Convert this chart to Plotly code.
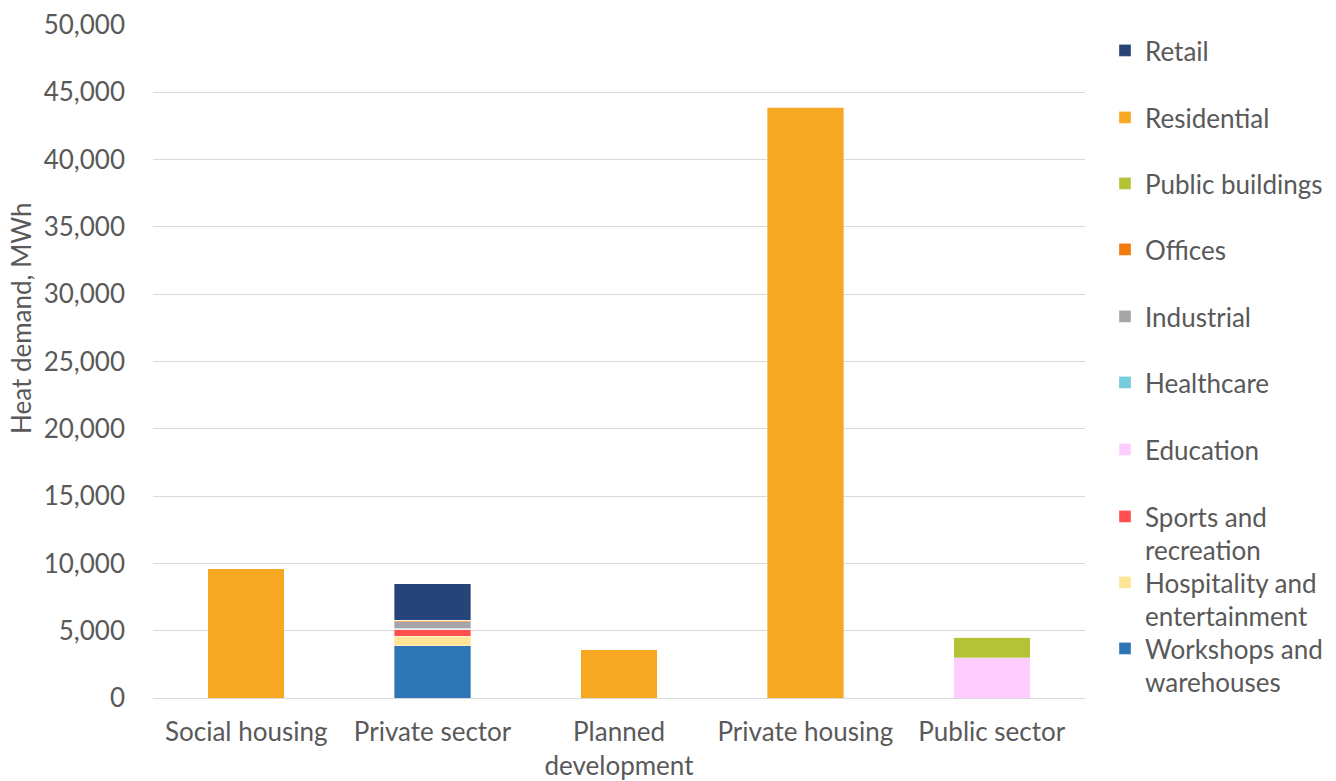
import plotly.graph_objects as go

# Heat demand by sector, stacked by building use (MWh)
categories = ["Social housing", "Private sector", "Planned<br>development",
              "Private housing", "Public sector"]

workshops = [0, 3870, 0, 0, 0]
hospitality = [0, 730, 0, 0, 0]
sports = [0, 520, 0, 0, 0]
education = [0, 0, 0, 0, 3000]
healthcare = [0, 80, 0, 0, 0]
industrial = [0, 460, 0, 0, 0]
offices = [0, 100, 0, 0, 0]
public_buildings = [0, 0, 0, 0, 1500]
residential = [9600, 0, 3600, 43900, 0]
retail = [0, 2740, 0, 0, 0]

y_ticks = [0, 5000, 10000, 15000, 20000, 25000, 30000, 35000, 40000, 45000, 50000]

# (name, values, colour) from the bottom of the stack upward
series = [
    ("Workshops and<br>warehouses", workshops, "#2E75B6"),
    ("Hospitality and<br>entertainment", hospitality, "#FFE597"),
    ("Sports and<br>recreation", sports, "#FF4F4F"),
    ("Education", education, "#FFCCFF"),
    ("Healthcare", healthcare, "#73CDDB"),
    ("Industrial", industrial, "#A6A4A6"),
    ("Offices", offices, "#EE7B0B"),
    ("Public buildings", public_buildings, "#B4C236"),
    ("Residential", residential, "#F7A823"),
    ("Retail", retail, "#264478"),
]

FONT = "Lato"
GREY = "#595959"
FS = 26

# pixel geometry of the plotting area
L, R, T, B = 153, 1085, 25, 698
W, H = 1336, 781

# legend swatch centres (px), top to bottom: Retail ... Workshops
legend_centres = [51, 118, 184, 250, 317, 383, 450, 517, 583, 649]

fig = go.Figure()
layout_legends = {}
n = len(series)
for i, (name, vals, col) in enumerate(series):
    lg_index = n - 1 - i  # Retail on top
    key = "legend" if lg_index == 0 else f"legend{lg_index + 1}"
    fig.add_trace(go.Bar(
        x=categories, y=vals, name=name,
        marker=dict(color=col, line=dict(color="rgba(255,255,255,0.6)", width=0.6)),
        legend=key,
    ))
    cy = legend_centres[lg_index]
    top_px = cy - 24
    layout_legends[key] = dict(
        x=(1105 - L) / (R - L), xanchor="left",
        y=(B - top_px) / (B - T), yanchor="top",
        font=dict(family=FONT, size=FS, color=GREY),
        bgcolor="rgba(0,0,0,0)", valign="top",
        itemclick=False, itemdoubleclick=False,
    )

fig.update_layout(
    barmode="stack",
    bargap=0.59,
    width=W, height=H,
    margin=dict(l=L, r=W - R, t=T, b=H - B, autoexpand=False),
    plot_bgcolor="white", paper_bgcolor="white",
    font=dict(family=FONT, color=GREY),
    showlegend=True,
    **layout_legends,
)

# vertical axis title, set a little above the middle of the axis
fig.add_annotation(
    text="Heat demand, MWh", textangle=-90,
    xref="paper", yref="paper",
    x=(21 - L) / (R - L), y=(B - 318) / (B - T),
    xanchor="center", yanchor="middle", showarrow=False,
    font=dict(family=FONT, size=FS, color=GREY),
)

fig.update_yaxes(
    range=[0, 50000], tickvals=y_ticks, tickformat=",d",
    showgrid=True, gridcolor="#D9D9D9", gridwidth=1,
    zeroline=True, zerolinecolor="#D9D9D9", zerolinewidth=1,
    showline=False, ticks="", automargin=False,
    tickfont=dict(family=FONT, size=FS, color=GREY),
    ticklabelstandoff=27,
)
fig.update_xaxes(
    showline=False, ticks="", automargin=False,
    tickfont=dict(family=FONT, size=FS, color=GREY),
    ticklabelstandoff=16,
)

fig.write_html("out.html")
